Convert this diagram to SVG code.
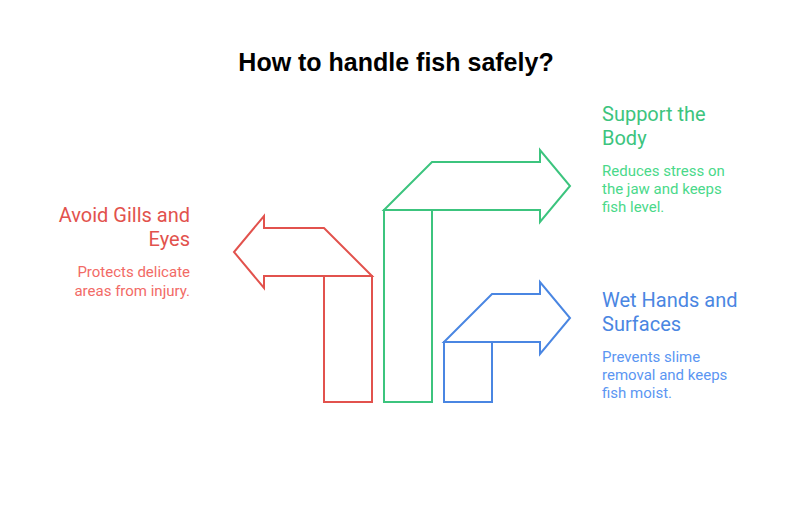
<svg xmlns="http://www.w3.org/2000/svg" width="792" height="510" viewBox="0 0 792 510">
<style>
.t{font-family:Roboto,"Liberation Sans",sans-serif;font-size:20px}
.d{font-family:Roboto,"Liberation Sans",sans-serif;font-size:15px}
.s{fill:none;stroke-width:2;stroke-linejoin:miter}
.red{stroke:#e2524d}.grn{stroke:#3cc47e}.blu{stroke:#4a86e2}
</style>
<rect width="792" height="510" fill="#ffffff"/>
<text x="396" y="71" text-anchor="middle" font-family="'Liberation Sans',Arial,sans-serif" font-size="25" font-weight="bold" fill="#000">How to handle fish safely?</text>
<g id="connectors">
<path class="s red" d="M324,228 L264,228 L264,216 L234,252 L264,288 L264,276 L372,276 Z"/>
<path class="s grn" d="M384,210 L432,162 L540,162 L540,150 L570,186 L540,222 L540,210 Z"/>
<path class="s blu" d="M444,342 L492,294 L540,294 L540,282 L570,318 L540,354 L540,342 Z"/>
</g>
<g id="node-avoid">
<rect class="s red" x="324" y="276" width="48" height="126"/>
<text class="t" x="190" y="222" text-anchor="end" fill="#e2524d">Avoid Gills and</text>
<text class="t" x="190" y="246" text-anchor="end" fill="#e2524d">Eyes</text>
<text class="d" x="190" y="277" text-anchor="end" fill="#f26a66">Protects delicate</text>
<text class="d" x="190" y="296" text-anchor="end" fill="#f26a66">areas from injury.</text>
</g>
<g id="node-support">
<rect class="s grn" x="384" y="210" width="48" height="192"/>
<text class="t" x="602" y="121" fill="#3cc47e">Support the</text>
<text class="t" x="602" y="145" fill="#3cc47e">Body</text>
<text class="d" x="602" y="176" fill="#4ad98a">Reduces stress on</text>
<text class="d" x="602" y="194" fill="#4ad98a">the jaw and keeps</text>
<text class="d" x="602" y="212" fill="#4ad98a">fish level.</text>
</g>
<g id="node-wet">
<rect class="s blu" x="444" y="342" width="48" height="60"/>
<text class="t" x="602" y="307" fill="#4a86e2">Wet Hands and</text>
<text class="t" x="602" y="331" fill="#4a86e2">Surfaces</text>
<text class="d" x="602" y="362" fill="#5b96f2">Prevents slime</text>
<text class="d" x="602" y="380" fill="#5b96f2">removal and keeps</text>
<text class="d" x="602" y="398" fill="#5b96f2">fish moist.</text>
</g>
</svg>
